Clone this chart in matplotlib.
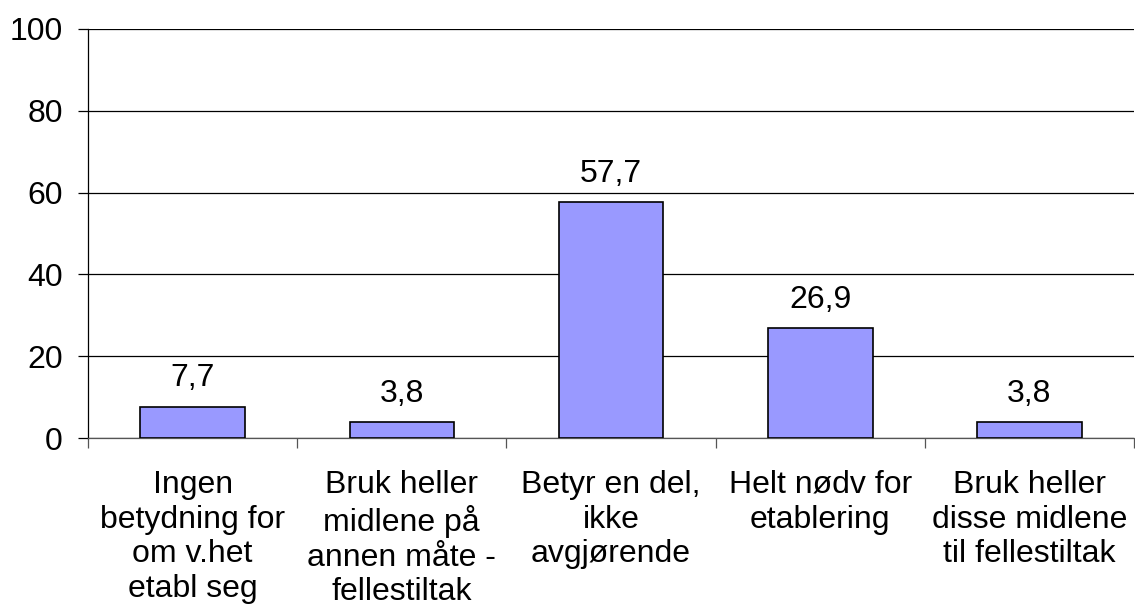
import matplotlib
matplotlib.use("Agg")
import matplotlib.pyplot as plt

categories = [
    "Ingen\nbetydning for\nom v.het\netabl seg",
    "Bruk heller\nmidlene på\nannen måte -\nfellestiltak",
    "Betyr en del,\nikke\navgjørende",
    "Helt nødv for\netablering",
    "Bruk heller\ndisse midlene\ntil fellestiltak",
]
values = [7.7, 3.8, 57.7, 26.9, 3.8]
value_labels = ["7,7", "3,8", "57,7", "26,9", "3,8"]
yticks = [0, 20, 40, 60, 80, 100]

plt.rcParams['font.family'] = ['Liberation Sans', 'DejaVu Sans']
FS = 23

fig = plt.figure(figsize=(11.35, 6.08), dpi=100)
ax = fig.add_axes([88/1135, 1 - 438/608, (1134-88)/1135, (438-29)/608])

x = list(range(len(categories)))
ax.bar(x, values, width=0.5, color="#9999FF", edgecolor="black", linewidth=1.2, zorder=3)
for xi, v, lab in zip(x, values, value_labels):
    ax.text(xi, v + 3.2, lab, ha="center", va="bottom", fontsize=FS)

ax.set_xlim(-0.5, len(categories) - 0.5)
ax.set_ylim(0, 100)
ax.set_yticks(yticks)
ax.set_yticklabels([str(t) for t in yticks], fontsize=FS)
ax.yaxis.grid(True, color="black", linewidth=0.9, zorder=0)
ax.tick_params(axis="y", length=7, width=0.9, pad=11)

ax.set_xticks([i + 0.5 for i in range(-1, len(categories))], minor=False)
ax.set_xticklabels([""] * (len(categories) + 1))
ax.tick_params(axis="x", length=7, width=0.9, color="#555555")
ax.set_xticks(x, minor=True)
ax.set_xticklabels(categories, minor=True, fontsize=FS, linespacing=1.2)
ax.tick_params(axis="x", which="minor", length=0, pad=23)

for s in ["top", "right"]:
    ax.spines[s].set_visible(False)
ax.spines["left"].set_linewidth(0.9)
ax.spines["bottom"].set_linewidth(0.9)
ax.spines["bottom"].set_color("#555555")

fig.savefig("out.png", dpi=100)
